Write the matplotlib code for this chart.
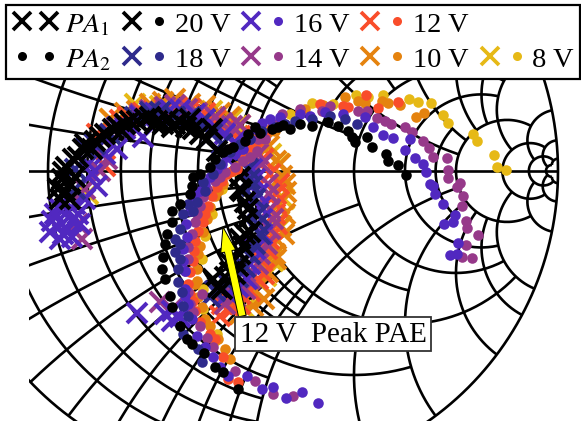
import numpy as np
import matplotlib
matplotlib.use('Agg')
import matplotlib.pyplot as plt
from matplotlib.lines import Line2D
from matplotlib.legend_handler import HandlerTuple

plt.rcParams['font.family'] = ['Liberation Serif', 'DejaVu Serif']
plt.rcParams['mathtext.fontset'] = 'stix'

# measured reflection coefficient, (real, imag)
pa2_20 = [(.503,-.013),(.477,.020),(.444,.033),(.438,.056),(.392,.078),(.376,.111),(.327,.111),(.314,.131),(.281,.147),(.248,.160),
          (.196,.147),(.157,.154),(.101,.150),(.065,.137),(.026,.124),(-.013,.121),(-.023,.098),(-.062,.078),(-.095,.062),(-.137,.013),
          (-.193,-.020),(-.196,-.049),(-.203,-.075),(-.235,-.108),(-.261,-.131),(-.261,-.167),(-.278,-.206),(-.284,-.239),(-.291,-.281),(-.294,-.320),
          (-.284,-.353),(-.268,-.408),(-.261,-.444),(-.235,-.507),(-.212,-.549),(-.196,-.565),(-.157,-.595),(-.121,-.641),(-.095,-.657),(-.046,-.712),
          (.337,.095),(.124,.137),(.085,.144),(.010,.144),(-.078,.072),(-.170,-.010),(-.121,.039)]
pa2_18 = [(.343,.154),(.304,.170),(.255,.180),(.196,.170),(.141,.163),(.075,.144),(.033,.131),(-.007,.105),(-.072,.062),(-.127,-.010),
          (-.160,-.036),(-.180,-.101),(-.209,-.108),(-.225,-.141),(-.235,-.190),(-.252,-.222),(-.252,-.265),(-.242,-.320),(-.242,-.363),(-.229,-.395),
          (-.225,-.441),(-.209,-.474),(-.225,-.533),(-.176,-.582),(-.163,-.624),(-.105,.023),(-.039,.088),(-.235,-.288),(-.193,-.131),(-.154,-.065),
          (.108,.154),(-.235,-.239)]
pa2_16 = [(.647,-.275),(.670,-.271),(.673,-.235),(.657,-.167),(.663,-.144),(.627,-.173),(.624,-.108),(.598,-.075),(.592,-.049),(.582,-.042),
          (.569,-.003),(.559,.023),(.533,.042),(.500,.069),(.516,.105),(.461,.108),(.428,.118),(.395,.144),(.369,.176),(.297,.186),
          (.239,.193),(.190,.180),(.157,.186),(.092,.176),(.033,.157),(-.029,.072),(-.082,.046),(-.114,.007),(-.154,-.042),(-.170,-.065),
          (-.196,-.101),(-.216,-.173),(-.225,-.255),(-.219,-.327),(-.219,-.386),(-.219,-.408),(-.196,-.484),(-.180,-.539),(-.127,-.608),(-.078,-.670),
          (-.016,-.670),(.033,-.712),(.069,-.706),(.111,-.742),(.163,-.722),(.216,-.758),(-.056,.056),(-.098,.023),(-.137,-.020),(-.186,-.075),
          (-.203,-.131),(-.212,-.216),(-.225,-.294),(-.209,-.435),(-.154,-.575),(-.105,-.641),(.010,.137),(.059,.170),(-.007,.105)]
pa2_14 = [(.719,-.284),(.686,-.281),(.699,-.242),(.739,-.209),(.703,-.186),(.699,-.163),(.686,-.114),(.690,-.082),(.670,-.052),(.680,-.039),
          (.641,-.023),(.641,.003),(.637,.042),(.592,.046),(.578,.075),(.559,.098),(.523,.127),(.500,.144),(.454,.154),(.435,.163),
          (.408,.173),(.376,.196),(.346,.196),(.255,.212),(.229,.196),(.157,.203),(.098,.186),(.042,.105),(.016,.065),(-.029,.033),
          (-.088,-.003),(-.121,-.033),(-.147,-.059),(-.170,-.114),(-.186,-.167),(-.209,-.248),(-.209,-.288),(-.219,-.327),(-.209,-.395),(-.193,-.461),
          (-.163,-.402),(-.170,-.507),(-.147,-.546),(-.127,-.575),(-.056,-.654),(.010,-.686),(.069,-.729),(.134,-.735),(-.007,.046),(-.056,.013),
          (-.105,-.020),(-.160,-.085),(-.180,-.141),(-.196,-.206),(.069,.154),(.020,.105),(-.203,-.435)]
pa2_12 = [(.477,.225),(.412,.206),(.373,.248),(.314,.209),(.297,.212),(.222,.219),(.157,.196),(.092,.163),(.042,.121),(-.007,.072),
          (-.049,.007),(-.082,-.010),(-.114,-.052),(-.144,-.114),(-.160,-.167),(-.186,-.229),(-.193,-.294),(-.203,-.330),(-.209,-.369),(-.193,-.425),
          (-.186,-.458),(-.170,-.493),(-.121,-.549),(-.095,-.608),(-.078,-.680),(-.046,-.690),(.020,.095),(-.029,.039),(-.065,.000),(-.098,-.033),
          (-.131,-.082),(-.154,-.141),(-.176,-.196),(-.190,-.261),(-.203,-.402),(-.137,-.533),(.065,.144)]
pa2_10 = [(.562,.190),(.536,.176),(.484,.216),(.444,.222),(.425,.229),(.369,.222),(.346,.229),(.304,.242),(.232,.216),(.173,.203),
          (.108,.154),(.042,.105),(-.023,.039),(-.072,-.003),(-.095,-.042),(-.121,-.082),(-.147,-.157),(-.170,-.245),(-.176,-.271),(-.180,-.320),
          (-.186,-.369),(-.163,-.444),(-.154,-.484),(-.137,-.507),(-.111,-.549),(-.072,-.614),(.010,.072),(-.049,.016),(-.111,-.065),(-.137,-.118),
          (-.160,-.199),(-.180,-.359),(-.176,-.412),(.075,.131),(-.088,-.582)]
pa2_8 = [(.830,.003),(.801,.013),(.791,.052),(.735,.098),(.722,.121),(.641,.157),(.624,.183),(.585,.222),(.542,.225),(.513,.235),
         (.428,.248),(.379,.242),(.340,.248),(.265,.219),(.196,.222),(.124,.186),(.059,.137),(-.007,.072),(-.062,.000),(-.098,-.059),
         (-.131,-.141),(-.154,-.212),(-.163,-.288),(-.160,-.386),(-.160,-.451),(-.154,-.490),(-.114,-.533),(-.121,-.556)]

pa1_20 = [(-.627,-.092),(-.634,-.059),(-.618,-.003),(-.585,.039),(-.552,.072),(-.497,.111),(-.454,.137),(-.399,.163),(-.350,.170),(-.291,.154),
          (-.235,.160),(-.193,.137),(-.147,.105),(-.114,.065),(-.046,.016),(-.039,-.020),(-.033,-.065),(-.023,-.101),(-.016,-.157),(-.007,-.199),
          (-.029,-.245),(-.039,-.271),(-.046,-.310),(-.072,-.330),(-.127,-.353),(-.111,-.379),(-.595,-.042),(-.523,.072),(-.425,.131),(-.317,.154),
          (-.261,.144),(-.170,.121),(-.621,-.026),(-.608,.013),(-.569,.046),(-.546,.088),(-.513,.098),(-.480,.121),(-.438,.144),(-.415,.154),
          (-.376,.163),(-.333,.176),(-.310,.163),(-.275,.170),(-.252,.154),(-.216,.144),(-.203,.170),(-.131,.137),(-.039,-.059),(-.013,-.124),
          (-.023,-.206),(-.039,-.222),(-.056,-.337),(-.088,-.346),(-.098,-.386),(-.078,-.294),(-.611,-.065),(-.578,-.020),(-.595,-.092)]
pa1_18 = [(-.578,.007),(-.513,.088),(-.415,.154),(-.333,.193),(-.252,.176),(-.170,.154),(-.098,.088),(-.013,.007),(.000,-.049),(.020,-.141),
          (.026,-.206),(-.007,-.271),(-.046,-.346),(-.121,-.392),(-.546,.072),(-.464,.121),(-.382,.176),(-.301,.193),(-.203,.176),(-.131,.121),
          (-.007,-.026),(.010,-.092),(.020,-.173),(.010,-.239),(-.023,-.314),(-.078,-.369),(-.137,-.412),(-.578,-.059)]
pa1_16 = [(-.376,-.464),(-.284,-.467),(-.261,-.458),(-.235,-.477),(-.627,-.222),(-.660,-.199),(-.588,-.216),(-.621,-.173),(-.588,-.163),(-.644,-.141),
          (-.578,-.108),(-.601,-.131),(-.546,-.092),(-.507,-.049),(-.536,.023),(-.503,.078),(-.441,.072),(-.441,.144),(-.356,.111),(-.366,.180),
          (-.268,.200),(-.186,.185),(-.114,.137),(-.056,.095),(.000,.007),(.020,-.075),(.033,-.157),(.010,-.255),(-.016,-.353),(-.078,-.402),
          (-.480,.056),(-.415,.137),(-.317,.190),(-.235,.200),(-.154,.170),(-.088,.121),(-.039,.056),(.010,-.026),(.026,-.118),(.033,-.206),
          (-.007,-.304),(-.046,-.379),(-.634,-.118),(-.618,-.206),(-.569,-.141),(-.654,-.163),(-.562,-.173),(-.523,-.010),(-.261,-.490)]
pa1_14 = [(-.301,-.428),(-.261,-.451),(-.556,-.222),(-.569,-.173),(-.546,-.059),(-.497,.000),(-.474,.039),(-.415,.145),(-.333,.200),(-.252,.215),
          (-.180,.190),(-.121,.175),(-.065,.147),(-.039,.150),(.033,.023),(.052,-.042),(.060,-.124),(.060,-.190),(.049,-.239),(.020,-.304),
          (-.023,-.386),(-.088,-.435),(-.366,.185),(-.284,.208),(-.212,.203),(-.098,.155),(-.007,.088),(.020,.056),(.055,-.075),(.068,-.157),
          (.026,-.271),(-.007,-.353),(-.056,-.412)]
pa1_12 = [(-.105,-.474),(-.098,-.435),(-.480,.016),(-.507,.120),(-.405,.175),(-.324,.195),(-.245,.208),(-.154,.190),(-.082,.140),(-.039,.115),
          (.036,.039),(.060,-.010),(.080,-.075),(.075,-.141),(.065,-.190),(.050,-.255),(.040,-.337),(-.007,-.392),(-.039,-.435),(-.431,.165),
          (-.356,.188),(-.284,.203),(-.203,.203),(-.121,.165),(.000,.078),(.020,.056),(.088,-.042),(.078,-.108),(.082,-.173),(.055,-.222),
          (.033,-.294),(.020,-.353),(-.039,-.402),(-.065,-.451),(-.088,-.402)]
pa1_10 = [(-.464,.170),(-.376,.195),(-.291,.225),(-.203,.218),(-.105,.190),(-.039,.150),(.055,.082),(.080,.033),(.098,-.016),(.112,-.069),
          (.095,-.180),(.078,-.222),(.105,-.206),(.062,-.245),(.052,-.330),(.030,-.369),(-.007,-.386),(.003,-.441),(-.049,-.418),(-.415,.188),
          (-.333,.218),(-.252,.235),(-.154,.212),(-.072,.175),(.010,.115),(.040,.095),(.092,.023),(.108,-.042),(.088,-.108),(.108,-.141),
          (.075,-.271),(.040,-.418),(-.039,-.467),(.080,-.288)]
pa1_8 = [(-.536,-.075),(-.464,.170),(-.382,.218),(-.131,.195),(-.065,.170),(.026,.090),(.088,.023),(.088,-.108),(.088,-.190),(.072,-.239),
         (.045,-.343),(-.007,-.386),(-.023,-.451),(-.301,.212),(-.049,.148),(-.007,.110),(.062,.056),(.088,-.042),(.105,-.092),(.068,-.294),
         (.030,-.369),(-.039,-.435)]

voltages = ['20 V', '18 V', '16 V', '14 V', '12 V', '10 V', '8 V']
colors = ['#000000', '#2e2a8c', '#5128c0', '#96398a', '#f94d2a', '#e5830f', '#e6b916']
pa1 = [pa1_20, pa1_18, pa1_16, pa1_14, pa1_12, pa1_10, pa1_8]
pa2 = [pa2_20, pa2_18, pa2_16, pa2_14, pa2_12, pa2_10, pa2_8]

# smith grid: value -> how far the line runs along the other family
r_lines = {.1: 1, .2: 1, .3: 1, .4: 1, .5: 2, .6: 1, .7: 1, .8: 1, .9: 1, 1: 5, 1.5: 2, 2: 5, 3: 5, 4: 2, 5: 10, 10: 20, 20: 50, 50: 50}
x_lines = {.1: 1, .2: 1, .3: 1, .4: 1, .5: 2, .6: 1, .7: 1, .8: 1, .9: 1, 1: 5, 1.5: 2, 2: 5, 3: 5, 4: 5, 5: 10, 10: 20, 20: 50, 50: 50}

fig = plt.figure(figsize=(5.81, 4.27), dpi=100)
ax = fig.add_axes([29/581, 5/427, 536/581, 412/427])
ax.set_xlim(-.7288, 1.0229)
ax.set_ylim(-.817, .529)
ax.axis('off')

def gamma(z):
    return (z - 1) / (z + 1)

grid = dict(color='black', lw=1.9, zorder=1, solid_capstyle='butt')
t = np.linspace(0, 2*np.pi, 721)
ax.plot(np.cos(t), np.sin(t), **grid)
ax.plot([-1, 1], [0, 0], **grid)
for r, lim in r_lines.items():
    x = np.tan(np.linspace(-np.arctan(lim), np.arctan(lim), 400))
    g = gamma(r + 1j*x)
    ax.plot(g.real, g.imag, **grid)
for xv, lim in x_lines.items():
    rr = np.tan(np.linspace(0, np.arctan(lim), 300))
    for s in (1, -1):
        g = gamma(rr + 1j*s*xv)
        ax.plot(g.real, g.imag, **grid)

for pts, c in zip(pa1[::-1], colors[::-1]):
    p = np.array(pts)
    ax.plot(p[:, 0], p[:, 1], ls='none', marker='x', ms=14, mew=2.9, color=c, zorder=3)
for pts, c in zip(pa2[::-1], colors[::-1]):
    p = np.array(pts)
    ax.plot(p[:, 0], p[:, 1], ls='none', marker='o', ms=7.6, mew=0, color=c, zorder=4)

ax.annotate('12 V  Peak PAE', xy=(-.095, -.183), xytext=(.265, -.533), ha='center', va='center', fontsize=21, zorder=6,
            bbox=dict(boxstyle='square,pad=0.15', fc='white', ec='#333333', lw=1.3),
            arrowprops=dict(arrowstyle='simple,head_length=1.8,head_width=1.1,tail_width=0.55', mutation_scale=10, fc='#ffff00',
                            ec='black', lw=.7, relpos=(.02, 1), shrinkA=0, shrinkB=0))

def mk(m, c):
    if m == 'x':
        return Line2D([], [], ls='none', marker='x', ms=13.5, mew=2.7, color=c)
    return Line2D([], [], ls='none', marker='o', ms=6.5, mew=0, color=c)

blank = Line2D([], [], ls='none')
handles = [(mk('x', 'k'), mk('x', 'k')), (mk('o', 'k'), mk('o', 'k'))]
labels = ['$PA_1$', '$PA_2$']
for i in [0, 1, 2, 3, 4, 5]:
    handles.append((mk('x', colors[i]), mk('o', colors[i])))
    labels.append(voltages[i])
handles += [blank, (mk('x', colors[6]), mk('o', colors[6]))]
labels += ['', voltages[6]]
fig.legend(handles, labels, ncol=5, loc='upper left', bbox_to_anchor=(6/581, 1 - 6/427), bbox_transform=fig.transFigure,
           handler_map={tuple: HandlerTuple(ndivide=None, pad=.25)}, fontsize=20.5, frameon=True, fancybox=False,
           edgecolor='black', framealpha=1, handlelength=1.65, handletextpad=.2, columnspacing=.38, labelspacing=.32,
           borderpad=.22, borderaxespad=0).get_frame().set_linewidth(1.6)

fig.savefig('out.png', dpi=100)
